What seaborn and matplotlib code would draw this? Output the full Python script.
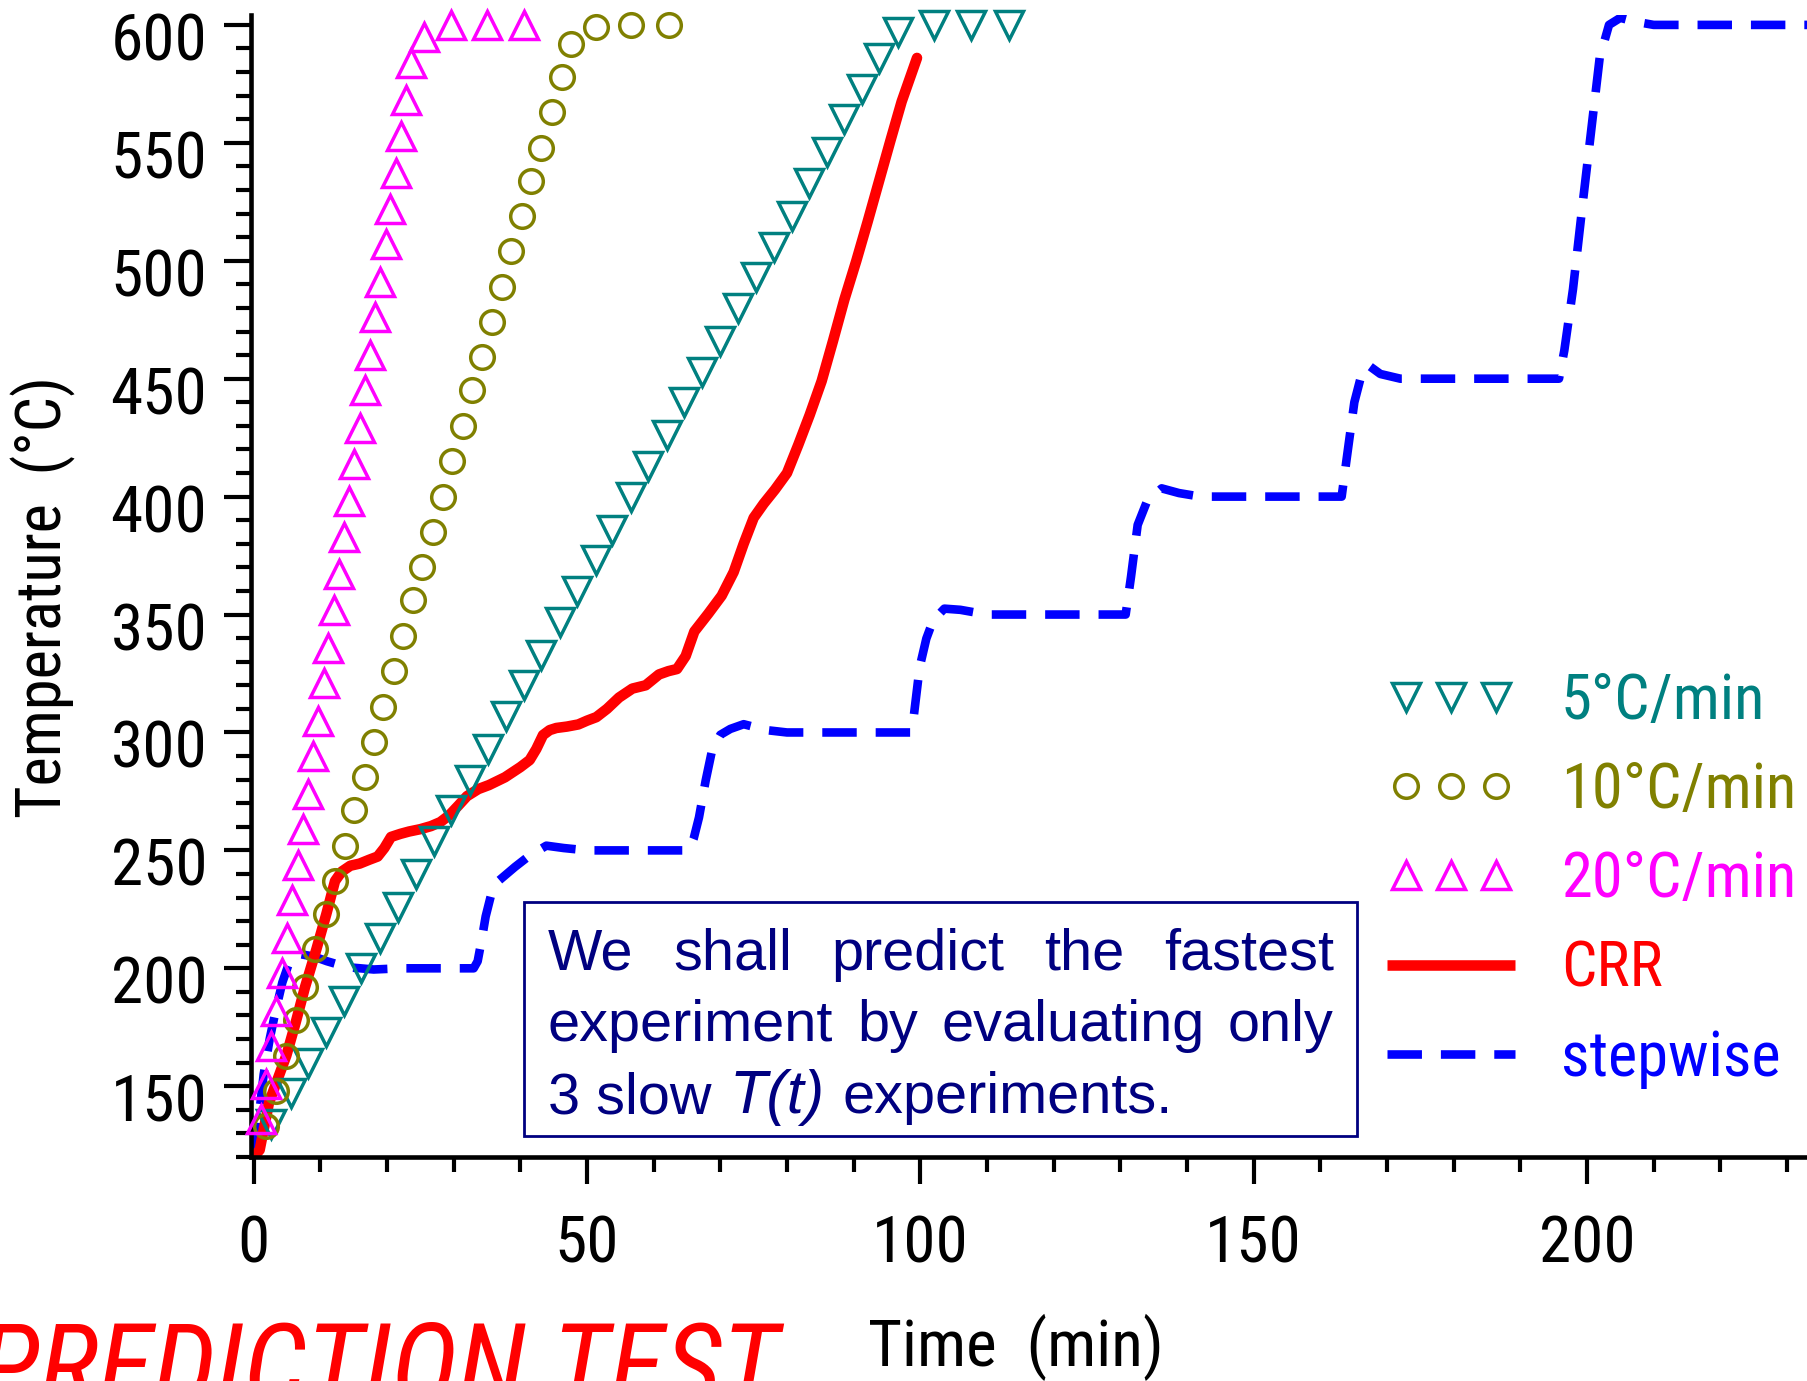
import os
import matplotlib
matplotlib.use("Agg")
import numpy as np
import matplotlib.pyplot as plt
from matplotlib import font_manager
from matplotlib.font_manager import FontProperties
from matplotlib.lines import Line2D
from matplotlib.patches import Rectangle
from matplotlib.ticker import MultipleLocator
from matplotlib.transforms import ScaledTranslation
from matplotlib.legend_handler import HandlerLine2D
import seaborn as sns

# ------------------------------------------------------------------ data
t_5 = [2.6, 5.6, 8.2, 10.8, 13.5, 16.1, 18.9, 21.7, 24.3, 27.0, 29.6, 32.4, 35.2, 37.8, 40.5,
       43.1, 45.9, 48.5, 51.3, 53.8, 56.6, 59.2, 62.0, 64.6, 67.3, 69.9, 72.7, 75.3, 78.0, 80.7,
       83.3, 86.0, 88.6, 91.2, 93.8, 96.7, 102.1, 107.6, 113.3]
T_5 = [134, 147, 160, 173, 186, 200, 213, 226, 240, 254, 267, 280, 293, 307, 320,
       333, 347, 360, 373, 386, 400, 413, 426, 440, 453, 466, 480, 493, 506, 519,
       533, 546, 560, 573, 586, 597, 600, 600, 600]

t_10 = [1.8, 3.3, 4.9, 6.3, 7.7, 9.2, 10.8, 12.2, 13.7, 15.1, 16.7, 18.0, 19.4, 21.0, 22.4,
        23.9, 25.3, 26.9, 28.4, 29.8, 31.4, 32.7, 34.3, 35.7, 37.2, 38.6, 40.2, 41.6, 43.1, 44.7,
        46.2, 47.6, 51.4, 56.6, 62.3]
T_10 = [133, 148, 163, 178, 192, 208, 223, 237, 252, 267, 281, 296, 311, 326, 341,
        356, 370, 385, 400, 415, 430, 445, 459, 474, 489, 504, 519, 534, 548, 563,
        578, 592, 599, 600, 600]

t_20 = [1.1, 1.8, 2.6, 3.4, 4.2, 5.0, 5.8, 6.6, 7.4, 8.1, 8.9, 9.7, 10.5, 11.2, 12.0, 12.8,
        13.6, 14.3, 15.1, 15.9, 16.7, 17.4, 18.2, 19.0, 19.8, 20.5, 21.3, 22.1, 22.9, 23.6,
        25.5, 29.6, 35.0, 40.5]
T_20 = [136, 151, 167, 182, 198, 213, 229, 244, 259, 274, 290, 305, 321, 336, 352, 367,
        383, 398, 414, 429, 445, 460, 476, 491, 507, 522, 537, 553, 568, 584,
        595, 600, 600, 600]

t_crr = [0.0, 0.9, 2.3, 3.6, 4.9, 6.3, 7.7, 9.4, 10.9, 12.2, 13.2, 14.5, 15.9, 17.3, 18.6,
         19.6, 20.6, 22.0, 23.3, 25.0, 26.6, 28.0, 29.3, 30.7, 32.0, 33.7, 35.3, 37.7, 40.0,
         41.4, 42.4, 43.4, 44.4, 45.4, 47.0, 48.7, 50.0, 51.4, 53.0, 54.8, 56.8, 58.8, 60.8,
         62.2, 63.5, 64.8, 66.1, 68.2, 70.2, 72.0, 73.5, 75.0, 76.5, 78.2, 80.0, 81.7, 83.4,
         85.2, 86.9, 88.6, 90.4, 92.1, 93.8, 95.5, 97.2, 99.5]
T_crr = [120, 123, 143, 153, 163, 177, 192, 208, 223, 237, 241, 243.5, 244.4, 246, 247.4,
         251, 255.7, 257, 258, 259, 260.3, 262, 264.8, 269, 273, 276, 277.7, 281, 285.3,
         288.3, 293, 298.9, 301, 301.9, 302.5, 303.4, 305, 306.5, 310, 314.8, 318.6, 320, 324.6,
         326, 326.9, 332.4, 342.8, 350.4, 358, 368, 380, 391, 397, 403, 410, 422, 434.6,
         449, 466, 483.5, 500, 516.6, 533.7, 550.8, 567.5, 586]

t_step = [0.0, 0.7, 1.5, 2.4, 3.3, 4.3, 5.4, 7.0, 9.0, 11.0, 14.0, 18.0, 22.0, 33.0, 33.6,
          34.2, 34.8, 35.6, 36.7, 39.2, 41.2, 43.9, 46.5, 50.0, 65.3, 66.0, 66.8, 67.8, 68.8,
          70.0, 71.5, 73.5, 76.9, 80.0, 98.5, 99.0, 99.9, 100.9, 101.9, 103.6, 106.0, 110.0,
          130.8, 131.6, 132.6, 134.0, 136.2, 138.8, 142.0, 163.2, 163.9, 165.1, 166.2, 167.3,
          169.0, 172.0, 195.8, 196.6, 197.9, 199.3, 200.7, 201.9, 203.3, 205.0, 207.0, 210.0, 233.6]
T_step = [120, 135, 155, 170, 182, 194, 203, 206, 205, 203, 200.5, 199.5, 200, 200, 203,
          212, 222, 231, 237, 243, 247.4, 252, 251, 250, 250, 255, 264, 279.6, 293,
          299, 301.5, 303.5, 301, 300, 300, 306.5, 327.7, 339.8, 347.4, 352.5, 352, 350,
          350, 366, 388, 398, 403.5, 401.5, 400, 400, 415, 440, 452, 455.5,
          452, 450, 450, 462, 488, 523, 557, 586, 600, 603, 601.5, 600, 600]

x_ticks = [0, 50, 100, 150, 200]
y_ticks = [150, 200, 250, 300, 350, 400, 450, 500, 550, 600]
series_labels = ["5°C/min", "10°C/min", "20°C/min", "CRR", "stepwise"]
x_label = "Time  (min)"
y_label = "Temperature  (°C)"
note_line1 = ["We", "shall", "predict", "the", "fastest"]
note_line2 = ["experiment", "by", "evaluating", "only"]
note_line3 = ["3 slow", "T(t)", "experiments."]
title_text = "PREDICTION TEST"

# ------------------------------------------------------------------ fonts
C5, C10, C20, CRED, CBLUE, NAVY = "#008080", "#808000", "#FF00FF", "#FF0000", "#0000FF", "#000080"

sns.set_style("ticks")
fonts = font_manager.fontManager.ttflist
names = {f.name for f in fonts}
by_file = {os.path.basename(f.fname): f.fname for f in fonts}


def find_file(*cands):
    for c in cands:
        if c in by_file:
            return by_file[c]
    return None


narrow_reg = find_file("LiberationSansNarrow-Regular.ttf", "NotoSans-Condensed.ttf",
                       "RobotoCondensed-Regular.ttf", "OpenSans-CondensedRegular.ttf",
                       "OpenSansCondensed-Regular.ttf", "ArchivoNarrow-Regular.ttf")
narrow_it = find_file("LiberationSansNarrow-Italic.ttf", "NotoSans-CondensedItalic.ttf",
                      "RobotoCondensed-Italic.ttf", "OpenSans-CondensedItalic.ttf",
                      "OpenSansCondensed-Italic.ttf")
REGULAR = ["Liberation Sans", "DejaVu Sans"] if "Liberation Sans" in names else ["DejaVu Sans"]
plt.rcParams["font.family"] = REGULAR
plt.rcParams["axes.unicode_minus"] = False

if narrow_reg:
    def nfont(size):
        return FontProperties(fname=narrow_reg, size=size)
else:
    def nfont(size):
        return FontProperties(family=REGULAR, size=size * 0.85)

if narrow_it:
    title_font = FontProperties(fname=narrow_it, size=82)
else:
    title_font = FontProperties(family=REGULAR, style="italic", size=66)

W, H = 1808, 1381
fig = plt.figure(figsize=(W / 100, H / 100), dpi=100)
fig.patch.set_facecolor("white")
ax = fig.add_axes([251 / W, 1 - 1157 / H, (1807 - 251) / W, (1157 - 15) / H])
ax.set_facecolor("white")

LW_CRR, LW_STEP = 7.6, 6.2
MS_TRI, MS_CIR, MEW = 19.5, 17.0, 2.5
DASH = (0, (4.0, 2.2))

sns.lineplot(x=np.array(t_step), y=np.array(T_step), ax=ax, color=CBLUE, lw=LW_STEP,
             linestyle=DASH, sort=False, estimator=None, errorbar=None, zorder=2,
             dash_capstyle="butt")
sns.lineplot(x=np.array(t_crr), y=np.array(T_crr), ax=ax, color=CRED, lw=LW_CRR,
             sort=False, estimator=None, errorbar=None, zorder=2)
for tx, ty, mk, col, ms in [(t_5, T_5, "v", C5, MS_TRI), (t_10, T_10, "o", C10, MS_CIR),
                            (t_20, T_20, "^", C20, MS_TRI)]:
    sns.lineplot(x=np.array(tx), y=np.array(ty), ax=ax, linestyle="", marker=mk,
                 markersize=ms, markerfacecolor="none", markeredgecolor=col,
                 markeredgewidth=MEW, sort=False, estimator=None, errorbar=None,
                 clip_on=False, zorder=3)

ax.set_xlim(-0.4, 233.0)
ax.set_ylim(120, 604.2)
for s in ["top", "right"]:
    ax.spines[s].set_visible(False)
for s in ["left", "bottom"]:
    ax.spines[s].set_linewidth(3.3)
    ax.spines[s].set_color("black")

ax.set_xticks(x_ticks)
ax.set_yticks(y_ticks)
ax.xaxis.set_minor_locator(MultipleLocator(10))
ax.yaxis.set_minor_locator(MultipleLocator(10))
ax.tick_params(which="major", length=19.5, width=3.0, direction="out", color="black")
ax.tick_params(which="minor", length=10.5, width=3.0, direction="out", color="black")
ax.tick_params(axis="x", which="major", pad=21)
ax.tick_params(axis="y", which="major", pad=12)
for lab in ax.get_xticklabels() + ax.get_yticklabels():
    lab.set_fontproperties(nfont(47))
    lab.set_color("black")
off = ScaledTranslation(0, -0.11, fig.dpi_scale_trans)
for lab in ax.get_yticklabels():
    lab.set_transform(lab.get_transform() + off)

ax.set_xlabel(x_label, fontproperties=nfont(47), color="black")
ax.xaxis.set_label_coords((1016 - 251) / 1556, (1157 - 1314) / 1142)
ax.set_ylabel(y_label, fontproperties=nfont(45), color="black")
ax.yaxis.set_label_coords((76 - 251) / 1556, (1157 - 597) / 1142)

# ------------------------------------------------------------------ legend
h_marker = [
    Line2D([], [], ls="", marker="v", ms=MS_TRI, mfc="none", mec=C5, mew=MEW),
    Line2D([], [], ls="", marker="o", ms=MS_CIR, mfc="none", mec=C10, mew=MEW),
    Line2D([], [], ls="", marker="^", ms=MS_TRI, mfc="none", mec=C20, mew=MEW),
]
h_crr = Line2D([], [], color=CRED, lw=LW_CRR, solid_capstyle="butt")
h_step = Line2D([], [], color=CBLUE, lw=LW_STEP, ls=DASH, dash_capstyle="butt")
handles = h_marker + [h_crr, h_step]
leg_fp = nfont(45)
E = leg_fp.get_size_in_points() * 100 / 72.0          # em in pixels
row_h = 0.99 * E
leg = ax.legend(handles, series_labels, loc="upper left",
                bbox_to_anchor=(1387 / W, 1 - (703 - row_h / 2) / H),
                bbox_transform=fig.transFigure,
                frameon=False, numpoints=3, handlelength=128 / E,
                handletextpad=46 / E, labelspacing=(91 - row_h) / E,
                borderpad=0, borderaxespad=0, prop=leg_fp,
                handler_map={h_crr: HandlerLine2D(numpoints=1),
                             h_step: HandlerLine2D(numpoints=1)})
for txt, c in zip(leg.get_texts(), [C5, C10, C20, CRED, CBLUE]):
    txt.set_color(c)

# ------------------------------------------------------------------ note box
def fx(px):
    return px / W


def fy(py):
    return 1 - py / H


box = Rectangle((fx(524), fy(1136)), fx(1357) - fx(524), fy(902) - fy(1136),
                transform=fig.transFigure, facecolor="white", edgecolor=NAVY,
                linewidth=2.0, zorder=5)
fig.add_artist(box)

renderer = fig.canvas.get_renderer()
LEFT, RIGHT = 548, 1334
for words, base in [(note_line1, 970), (note_line2, 1041)]:
    arts = [fig.text(0, fy(base), w, fontsize=41.5, family=REGULAR, color=NAVY,
                     va="baseline", ha="left", zorder=6) for w in words]
    widths = [a.get_window_extent(renderer=renderer).width for a in arts]
    gap = (RIGHT - LEFT - sum(widths)) / (len(words) - 1)
    x = LEFT
    for a, wd in zip(arts, widths):
        a.set_x(fx(x))
        x += wd + gap

for word, xp, style, fs in zip(note_line3, [548, 730, 843], ["normal", "italic", "normal"],
                               [41.5, 44, 41.5]):
    fig.text(fx(xp), fy(1113), word, fontsize=fs, family=REGULAR, style=style,
             color=NAVY, va="baseline", ha="left", zorder=6)

# ------------------------------------------------------------------ title
fig.text(fx(-22), fy(1405), title_text, color=CRED, va="baseline", ha="left",
         fontproperties=title_font)

fig.savefig("out.png", dpi=100, facecolor="white")
